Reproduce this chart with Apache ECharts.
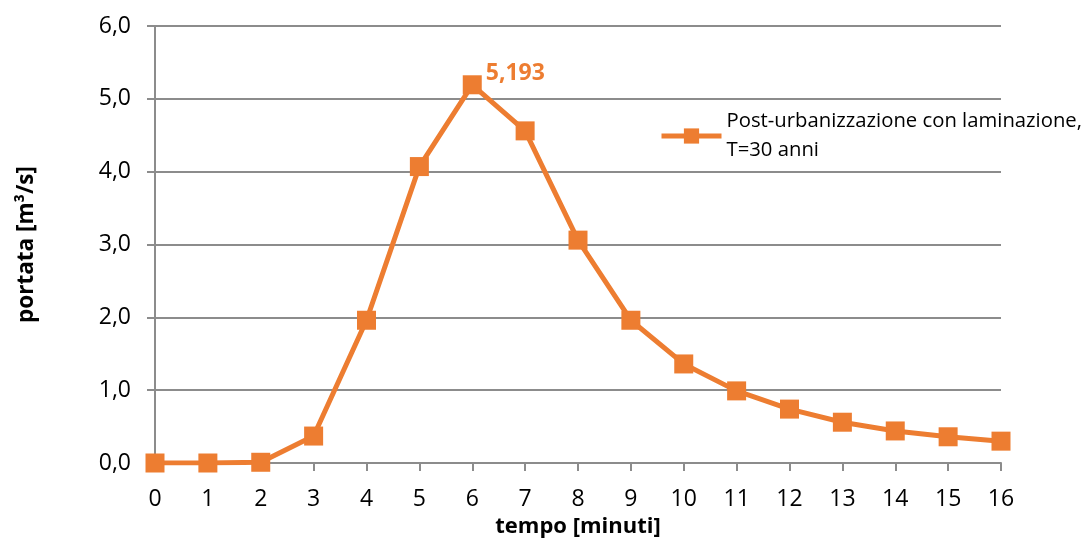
<!DOCTYPE html>
<html>
<head>
<meta charset="utf-8">
<script src="https://cdn.jsdelivr.net/npm/echarts@6/dist/echarts.min.js"></script>
<style>
  html, body { margin: 0; padding: 0; background: #fff; }
  #chart { width: 1089px; height: 541px; }
</style>
</head>
<body>
<div id="chart"></div>
<script>
const minuti = ['0', '1', '2', '3', '4', '5', '6', '7', '8', '9', '10', '11', '12', '13', '14', '15', '16']
const portata = [0, 0, 0.01, 0.37, 1.96, 4.07, 5.193, 4.56, 3.06, 1.96, 1.36, 0.99, 0.74, 0.56, 0.44, 0.36, 0.30]
const picco = 6
const serieName = 'Post-urbanizzazione con laminazione,\nT=30 anni'

const fontFam = 'Open Sans'
const arancio = '#ED7D31'
const grigio = '#8c8c8c'

const chart = echarts.init(document.getElementById('chart'))

const seriesData = portata.map((v, i) => {
    if (i === picco) {
        return {
            value: v,
            label: {
                show: true,
                position: 'right',
                distance: 4,
                offset: [0, -11],
                formatter: p => p.value.toFixed(3).replace('.', ','),
                color: arancio,
                fontWeight: 'bold',
                fontSize: 23,
                fontFamily: fontFam
            }
        }
    }
    return v
})

chart.setOption({
    animation: false,
    grid: { left: 155, right: 88, top: 26, bottom: 78, containLabel: false, outerBoundsMode: 'none' },
    legend: {
        data: [serieName],
        left: 654,
        top: 102,
        itemWidth: 60,
        itemHeight: 19,
        itemGap: 4,
        lineStyle: { width: 5 },
        textStyle: { fontFamily: fontFam, fontSize: 20.3, color: '#000', lineHeight: 29 }
    },
    xAxis: {
        type: 'category',
        data: minuti,
        boundaryGap: false,
        name: 'tempo [minuti]',
        nameLocation: 'middle',
        nameGap: 50,
        nameTextStyle: { fontFamily: fontFam, fontSize: 22, fontWeight: 'bold', color: '#000' },
        axisLine: { lineStyle: { color: grigio, width: 2 } },
        axisTick: { show: true, length: 8, lineStyle: { color: grigio, width: 2 } },
        axisLabel: { fontFamily: fontFam, fontSize: 23, color: '#000', margin: 25 }
    },
    yAxis: {
        type: 'value',
        min: 0,
        max: 6,
        interval: 1,
        name: 'portata [m³/s]',
        nameLocation: 'middle',
        nameGap: 117,
        nameTextStyle: { fontFamily: fontFam, fontSize: 22.5, fontWeight: 'bold', color: '#000' },
        axisLine: { show: true, lineStyle: { color: grigio, width: 2 } },
        axisTick: { show: true, length: 8, lineStyle: { color: grigio, width: 2 } },
        axisLabel: {
            fontFamily: fontFam, fontSize: 23, color: '#000', margin: 24,
            formatter: v => v.toFixed(1).replace('.', ',')
        },
        splitLine: { lineStyle: { color: grigio, width: 2 } }
    },
    series: [{
        name: serieName,
        type: 'line',
        data: seriesData,
        symbol: 'rect',
        symbolSize: 19,
        itemStyle: { color: arancio },
        lineStyle: { color: arancio, width: 5 }
    }]
})
</script>
</body>
</html>
